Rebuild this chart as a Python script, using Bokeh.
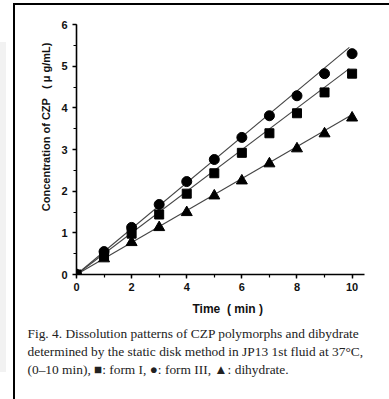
from bokeh.plotting import figure
from bokeh.models import Title, SingleIntervalTicker, Range1d
from bokeh.embed import file_html
from bokeh.resources import INLINE

time_min = [0, 1, 2, 3, 4, 5, 6, 7, 8, 9, 10]
form_I = [0, 0.45, 0.98, 1.44, 1.94, 2.43, 2.92, 3.39, 3.87, 4.37, 4.82]
form_III = [0, 0.55, 1.13, 1.68, 2.23, 2.76, 3.29, 3.81, 4.29, 4.82, 5.30]
dihydrate = [0, 0.38, 0.77, 1.13, 1.49, 1.89, 2.25, 2.66, 3.02, 3.38, 3.76]

fit_x = [0, 9.9]
fit_form_I = [0, 4.94]
fit_form_III = [0, 5.45]
fit_dihydrate = [0, 3.80]

y_label = "Concentration of CZP\u00a0\u00a0\u00a0(\u00a0\u03bc g/mL)"
x_label = "Time\u00a0\u00a0( min )"
caption_lines = [
    "Fig. 4. Dissolution patterns of CZP polymorphs and dibydrate",
    "determined by the static disk method in JP13 1st fluid at 37\u00b0C,",
    "(0\u201310 min), \u25a0: form I, \u25cf: form III, \u25b2: dihydrate.",
]

page_bg = ("linear-gradient(#000,#000) 13px 3px / 2px 396px no-repeat, "
           "linear-gradient(#000,#000) 13px 3px / 376px 2px no-repeat, "
           "linear-gradient(#f2f2f2,#f2f2f2) 0px 42px / 6px 330px no-repeat, "
           "#ffffff")

p = figure(width=389, height=399, output_backend="svg", toolbar_location=None,
           x_range=Range1d(0, 10.45), y_range=Range1d(0, 6.0),
           min_border_left=76, min_border_right=25, min_border_top=24,
           min_border_bottom=125, styles={"background": page_bg})
p.border_fill_color = None
p.background_fill_color = "white"
p.outline_line_color = None
p.xgrid.visible = False
p.ygrid.visible = False

p.xaxis.ticker = SingleIntervalTicker(interval=2, num_minor_ticks=2)
p.yaxis.ticker = SingleIntervalTicker(interval=1, num_minor_ticks=2)
for ax in (p.xaxis, p.yaxis):
    ax.axis_line_width = 1.6
    ax.axis_line_color = "black"
    ax.major_tick_line_width = 1.4
    ax.minor_tick_line_width = 1.2
    ax.major_tick_in = 0
    ax.major_tick_out = 4
    ax.minor_tick_in = 0
    ax.minor_tick_out = 3
    ax.major_label_text_font = "Liberation Sans"
    ax.major_label_text_font_style = "bold"
    ax.major_label_text_font_size = "11px"
    ax.major_label_text_color = "#111111"
p.xaxis.major_label_standoff = 4
p.yaxis.major_label_standoff = 5

p.add_layout(Title(text=x_label, align="left", offset=116, standoff=13,
                   text_font="Liberation Sans", text_font_style="bold",
                   text_font_size="12px", text_color="#111111"), "below")

p.add_layout(Title(text=y_label, align="right", offset=18, standoff=13,
                   text_font="Liberation Sans", text_font_style="bold",
                   text_font_size="11px", text_color="#111111"), "left")

for i, line in enumerate(caption_lines):
    p.add_layout(Title(text=line, align="left", offset=-49, standoff=2 if i == 0 else 1,
                       text_font="Liberation Serif", text_font_style="normal",
                       text_font_size="13.4px", text_color="#222222"), "below")

line_color = "#444444"
p.line(fit_x, fit_form_III, line_color=line_color, line_width=1.1)
p.line(fit_x, fit_form_I, line_color=line_color, line_width=1.1)
p.line(fit_x, fit_dihydrate, line_color=line_color, line_width=1.1)

p.scatter(time_min, form_III, marker="circle", size=10, color="black")
p.scatter(time_min, form_I, marker="square", size=9, color="black")
p.scatter(time_min, dihydrate, marker="triangle", size=11, color="black")

open("out.html", "w").write(file_html(p, INLINE))
